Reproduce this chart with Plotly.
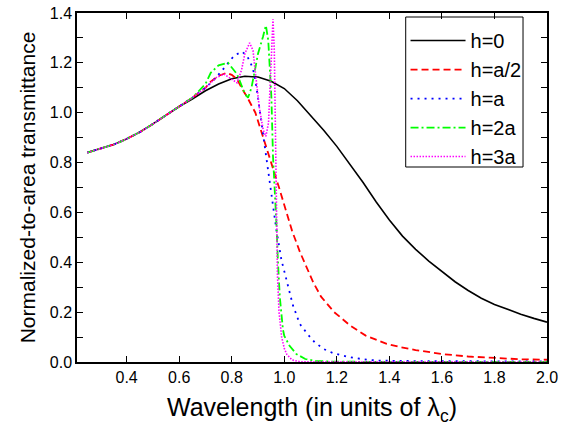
import plotly.graph_objects as go

# ---- data ----
common_x = [0.25, 0.30, 0.35, 0.40, 0.45, 0.50, 0.55, 0.60, 0.65]
common_y = [0.840, 0.855, 0.872, 0.895, 0.922, 0.955, 0.990, 1.025, 1.060]

h0_x = common_x[:-1] + [0.65, 0.70, 0.75, 0.80, 0.85, 0.90, 0.95, 1.00, 1.05, 1.10, 1.15, 1.20, 1.25,
                        1.30, 1.35, 1.40, 1.45, 1.50, 1.55, 1.60, 1.65, 1.70, 1.75, 1.80, 1.85, 1.90,
                        1.95, 2.00]
h0_y = common_y[:-1] + [1.055, 1.088, 1.115, 1.136, 1.146, 1.143, 1.126, 1.097, 1.048, 0.990, 0.930,
                        0.865, 0.795, 0.720, 0.642, 0.570, 0.505, 0.452, 0.405, 0.362, 0.322,
                        0.287, 0.256, 0.231, 0.210, 0.192, 0.175, 0.160]

ha2_x = common_x + [0.70, 0.72, 0.75, 0.78, 0.80, 0.82, 0.84, 0.86, 0.89, 0.91, 0.945, 0.98, 1.00,
                    1.03, 1.06, 1.08, 1.11, 1.14, 1.19, 1.25, 1.31, 1.39, 1.44, 1.50, 1.60, 1.70,
                    1.80, 1.90, 2.00]
ha2_y = common_y + [1.100, 1.125, 1.148, 1.160, 1.152, 1.135, 1.095, 1.060, 1.000, 0.935, 0.820,
                    0.700, 0.630, 0.525, 0.440, 0.390, 0.320, 0.262, 0.200, 0.147, 0.106, 0.073,
                    0.060, 0.048, 0.032, 0.022, 0.015, 0.011, 0.009]

ha_x = common_x + [0.70, 0.73, 0.76, 0.79, 0.81, 0.84, 0.86, 0.88, 0.89, 0.90, 0.913, 0.926, 0.938,
                   0.945, 0.951, 0.970, 0.989, 1.008, 1.033, 1.059, 1.09, 1.116, 1.15, 1.185, 1.25,
                   1.30, 1.35, 1.45, 1.60, 2.00]
ha_y = common_y + [1.100, 1.130, 1.165, 1.205, 1.230, 1.245, 1.225, 1.180, 1.130, 1.060, 0.960,
                   0.855, 0.775, 0.700, 0.655, 0.530, 0.410, 0.335, 0.227, 0.153, 0.110, 0.079,
                   0.052, 0.036, 0.019, 0.011, 0.006, 0.004, 0.003, 0.002]

h2a_x = common_x + [0.70, 0.72, 0.75, 0.786, 0.82, 0.837, 0.85, 0.862, 0.875, 0.89, 0.90, 0.919,
                    0.93, 0.939, 0.945, 0.951, 0.957, 0.964, 0.970, 0.976, 0.983, 0.995, 1.00,
                    1.02, 1.046, 1.08, 1.12, 1.20, 2.00]
h2a_y = common_y + [1.115, 1.160, 1.190, 1.200, 1.155, 1.110, 1.076, 1.060, 1.100, 1.180, 1.237,
                    1.305, 1.350, 1.290, 1.197, 1.060, 0.826, 0.690, 0.557, 0.400, 0.260, 0.130,
                    0.105, 0.065, 0.032, 0.012, 0.004, 0.001, 0.000]

h3a_x = common_x + [0.70, 0.74, 0.77, 0.80, 0.82, 0.837, 0.85, 0.868, 0.881, 0.888, 0.894, 0.905,
                    0.92, 0.93, 0.94, 0.946, 0.951, 0.957, 0.962, 0.966, 0.970, 0.974, 0.98, 0.99,
                    1.00, 1.01, 1.03, 1.06, 2.00]
h3a_y = common_y + [1.100, 1.140, 1.155, 1.135, 1.120, 1.170, 1.237, 1.280, 1.250, 1.180, 1.120,
                    1.020, 0.930, 0.905, 0.960, 1.100, 1.250, 1.375, 1.250, 1.000, 0.600, 0.350,
                    0.200, 0.100, 0.055, 0.030, 0.008, 0.001, 0.000]

names = ["h=0", "h=a/2", "h=a", "h=2a", "h=3a"]
xs = [h0_x, ha2_x, ha_x, h2a_x, h3a_x]
ys = [h0_y, ha2_y, ha_y, h2a_y, h3a_y]
colors = ["#000000", "#FF0000", "#0000FF", "#00FF00", "#FF00FF"]
dashes = ["solid", "7px,4px", "2px,5px", "8px,3px,2px,3px", "1.5px,1.5px"]
widths = [1.6, 1.8, 1.8, 1.8, 1.6]

x_ticks = [0.4, 0.6, 0.8, 1.0, 1.2, 1.4, 1.6, 1.8, 2.0]
y_ticks = [0.0, 0.2, 0.4, 0.6, 0.8, 1.0, 1.2, 1.4]

fig = go.Figure()
for n, x, y, c, d, w in zip(names, xs, ys, colors, dashes, widths):
    fig.add_trace(go.Scatter(x=x, y=y, mode="lines", name=n,
                             line=dict(color=c, dash=d, width=w)))

font = "Liberation Sans, Arial, sans-serif"
fig.update_layout(
    width=565, height=433,
    margin=dict(l=77, r=18, t=13, b=71, autoexpand=False),
    paper_bgcolor="white", plot_bgcolor="white",
    font=dict(family=font, color="black", size=15),
    showlegend=True,
    legend=dict(x=0.699, y=0.977, xanchor="left", yanchor="top",
                borderwidth=0, bgcolor="rgba(0,0,0,0)",
                font=dict(size=20, family=font),
                tracegroupgap=0, itemwidth=55),
    shapes=[dict(type="rect", xref="paper", yref="paper",
                 x0=0.6994, x1=0.949, y0=0.5587, y1=0.9885,
                 line=dict(color="black", width=1), fillcolor="white", layer="below")],
    xaxis=dict(range=[0.211, 2.0], tickvals=x_ticks,
               ticktext=[f"{v:.1f}" for v in x_ticks],
               showline=True, linecolor="black", linewidth=1.5, mirror="ticks",
               ticks="inside", ticklen=6, tickwidth=1.2, tickcolor="black",
               showgrid=False, zeroline=False, automargin=False,
               tickfont=dict(size=16),
               title=dict(text="Wavelength (in units of λ<sub>c</sub>)",
                          font=dict(size=25), standoff=14)),
    yaxis=dict(range=[0.0, 1.4], tickvals=y_ticks,
               ticktext=[f"{v:.1f}" for v in y_ticks],
               showline=True, linecolor="black", linewidth=1.5, mirror="ticks",
               ticks="inside", ticklen=6, tickwidth=1.2, tickcolor="black",
               minor=dict(dtick=0.1, tick0=0, ticks="inside", ticklen=6,
                          tickwidth=1.2, tickcolor="black"),
               showgrid=False, zeroline=False, automargin=False,
               tickfont=dict(size=16),
               title=dict(text="Normalized-to-area transmittance",
                          font=dict(size=21), standoff=8)),
)

fig.write_html("out.html", config={"displayModeBar": False})

# remove the default page margin so the 565x433 figure fits the window exactly
with open("out.html", encoding="utf-8") as f:
    html = f.read()
html = html.replace("<head>", "<head><style>html,body{margin:0;padding:0;overflow:hidden;}</style>", 1)
with open("out.html", "w", encoding="utf-8") as f:
    f.write(html)
